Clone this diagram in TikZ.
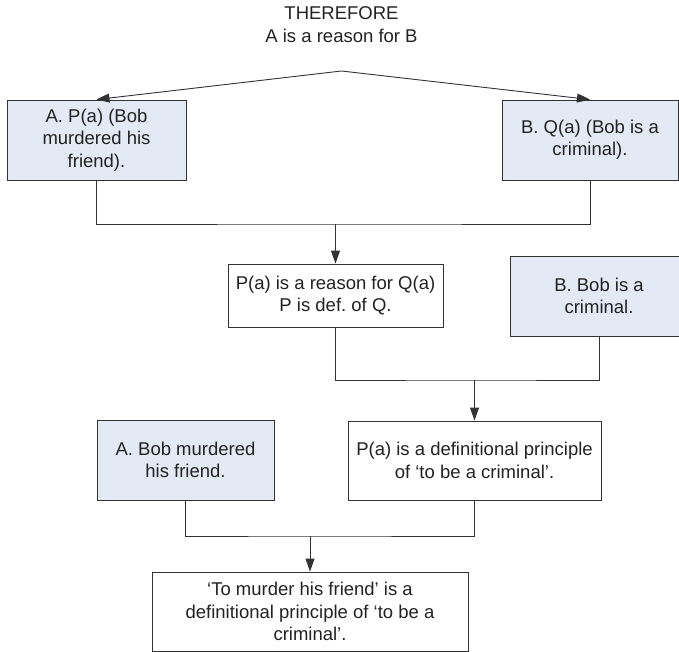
\documentclass[tikz,border=0pt]{standalone}
\usepackage{fontspec}
\setmainfont{Liberation Sans}
\usetikzlibrary{arrows.meta}
\definecolor{boxfill}{HTML}{E4EAF5}
\definecolor{linec}{HTML}{333333}
\definecolor{txt}{HTML}{222222}
\frenchspacing
\begin{document}
\begin{tikzpicture}[x=1pt,y=-1pt,
  every node/.style={font=\fontsize{18.5}{22.3}\selectfont, text=txt},
  box/.style={draw=linec, line width=0.9pt, inner sep=0pt, align=center},
  shaded/.style={box, fill=boxfill},
  plain/.style={box, fill=white},
  link/.style={draw=linec, line width=0.9pt},
  arrow/.style={link, -{Triangle[length=13pt,width=9pt]}}]
  % page frame
  \useasboundingbox (0,0) rectangle (679,652);

  % heading (base anchor sits on the last line)
  \node[align=center, inner sep=0pt, anchor=base,
        font=\fontsize{18.5}{23}\selectfont] (title) at (341.5,43)
        {THEREFORE\\A is a reason for B};
  \coordinate (apex) at (341.5,71);

  % boxes
  \node[shaded, minimum width=179, minimum height=80] (A1) at (96.5,140)
       {A. P(a) (Bob\\murdered his\\friend).};
  \node[shaded, minimum width=176, minimum height=80] (B1) at (590,140)
       {B. Q(a) (Bob is a\\criminal).};
  \node[plain, minimum width=215, minimum height=63] (C) at (335.5,295.5)
       {P(a) is a reason for Q(a)\\P is def. of Q.};
  \node[shaded, minimum width=178, minimum height=80] (D) at (599,296)
       {B. Bob is a\\criminal.};
  \node[plain, minimum width=253, minimum height=79] (E) at (474.5,460.5)
       {P(a) is a definitional principle\\of ‘to be a criminal’.};
  \node[shaded, minimum width=177, minimum height=80] (F) at (185.5,460)
       {A. Bob murdered\\his friend.};
  \node[plain, minimum width=316, minimum height=79] (G) at (310,611.5)
       {‘To murder his friend’ is a\\definitional principle of ‘to be a\\criminal’.};

  % junction points of the joining lines
  \coordinate (j1) at (335.5,224);
  \coordinate (j2) at (474.5,380);
  \coordinate (j3) at (310,536);

  % connectors
  \draw[arrow] (apex) -- (A1.north);
  \draw[arrow] (apex) -- (B1.north);

  \draw[link] (A1.south) |- (j1) -| (B1.south);
  \draw[arrow] (j1) -- (C.north);

  \draw[link] (C.south) |- (j2) -| (D.south);
  \draw[arrow] (j2) -- (E.north);

  \draw[link] (F.south) |- (j3) -| (E.south);
  \draw[arrow] (j3) -- (G.north);
\end{tikzpicture}
\end{document}
